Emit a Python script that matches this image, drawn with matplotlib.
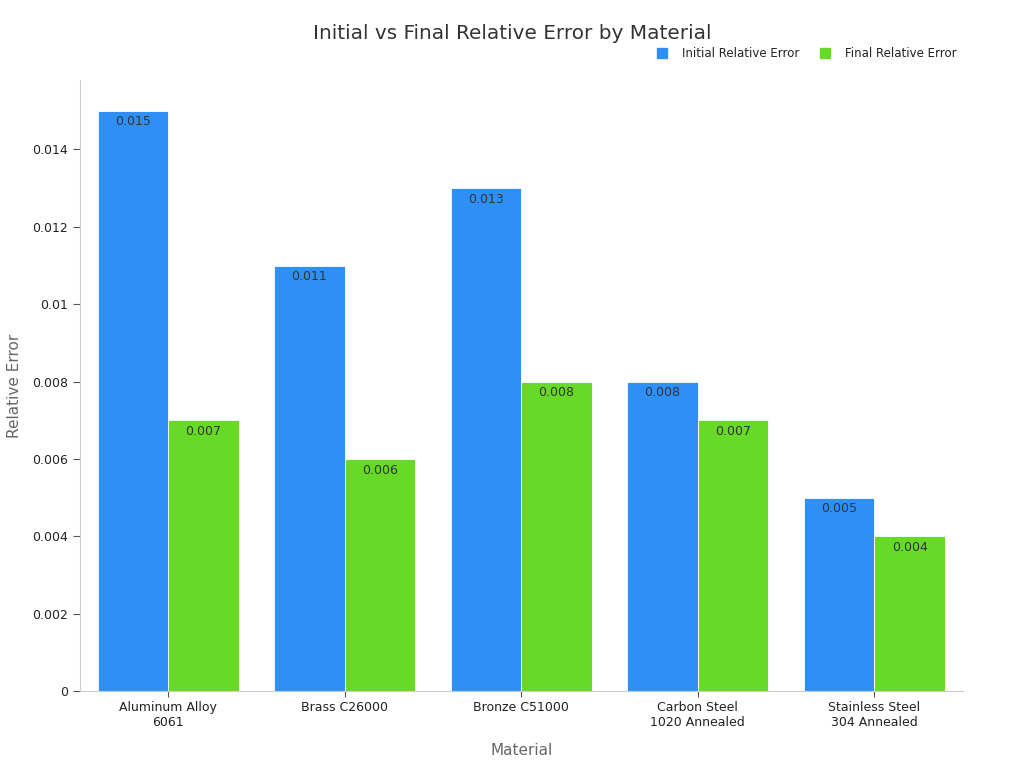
import matplotlib
matplotlib.use("Agg")
import matplotlib.pyplot as plt
import numpy as np
from matplotlib.lines import Line2D

categories = ["Aluminum Alloy\n6061", "Brass C26000", "Bronze C51000",
              "Carbon Steel\n1020 Annealed", "Stainless Steel\n304 Annealed"]
initial_err = [0.015, 0.011, 0.013, 0.008, 0.005]
final_err = [0.007, 0.006, 0.008, 0.007, 0.004]
series_names = ["Initial Relative Error", "Final Relative Error"]
colors = ["#2E90F6", "#66DA26"]

fig = plt.figure(figsize=(10.24, 7.68), dpi=100)
ax = fig.add_axes([0.078, 0.1003, 0.862, 0.7957])

x = np.arange(len(categories))
w = 0.4
b1 = ax.bar(x - w/2, initial_err, w, color=colors[0], edgecolor="white", linewidth=0.6)
b2 = ax.bar(x + w/2, final_err, w, color=colors[1], edgecolor="white", linewidth=0.6)

for bars, vals in [(b1, initial_err), (b2, final_err)]:
    for r, v in zip(bars, vals):
        ax.text(r.get_x() + r.get_width()/2, v - 0.00012, f"{v:g}",
                ha="center", va="top", fontsize=9, color="#333333")

ax.set_xlim(-0.5, 4.5)
ax.set_ylim(0, 0.0158)
ax.set_yticks([0, 0.002, 0.004, 0.006, 0.008, 0.01, 0.012, 0.014])
ax.set_yticklabels(["0", "0.002", "0.004", "0.006", "0.008", "0.01", "0.012", "0.014"])
ax.set_xticks(x)
ax.set_xticklabels(categories, fontsize=9, color="#222222")
ax.tick_params(axis="y", labelsize=9, labelcolor="#222222", color="#555555", length=5, width=0.8)
ax.tick_params(axis="x", color="#555555", length=4, width=0.8)

for s in ["top", "right"]:
    ax.spines[s].set_visible(False)
for s in ["left", "bottom"]:
    ax.spines[s].set_color("#cccccc")
    ax.spines[s].set_linewidth(0.8)

ax.set_xlabel("Material", fontsize=11, color="#666666", labelpad=10)
ax.set_ylabel("Relative Error", fontsize=11, color="#666666", labelpad=7)

fig.text(0.5, 0.957, "Initial vs Final Relative Error by Material", ha="center", va="center",
         fontsize=14.4, color="#333333")

handles = [Line2D([0], [0], marker="s", linestyle="none", markersize=7.5,
                  markerfacecolor=c, markeredgecolor=c) for c in colors]
fig.legend(handles, series_names, loc="center right", bbox_to_anchor=(0.945, 0.930),
           ncol=2, frameon=False, fontsize=8.5, handletextpad=0.7, columnspacing=1.2,
           labelcolor="#222222")

fig.savefig("out.png", dpi=100)
